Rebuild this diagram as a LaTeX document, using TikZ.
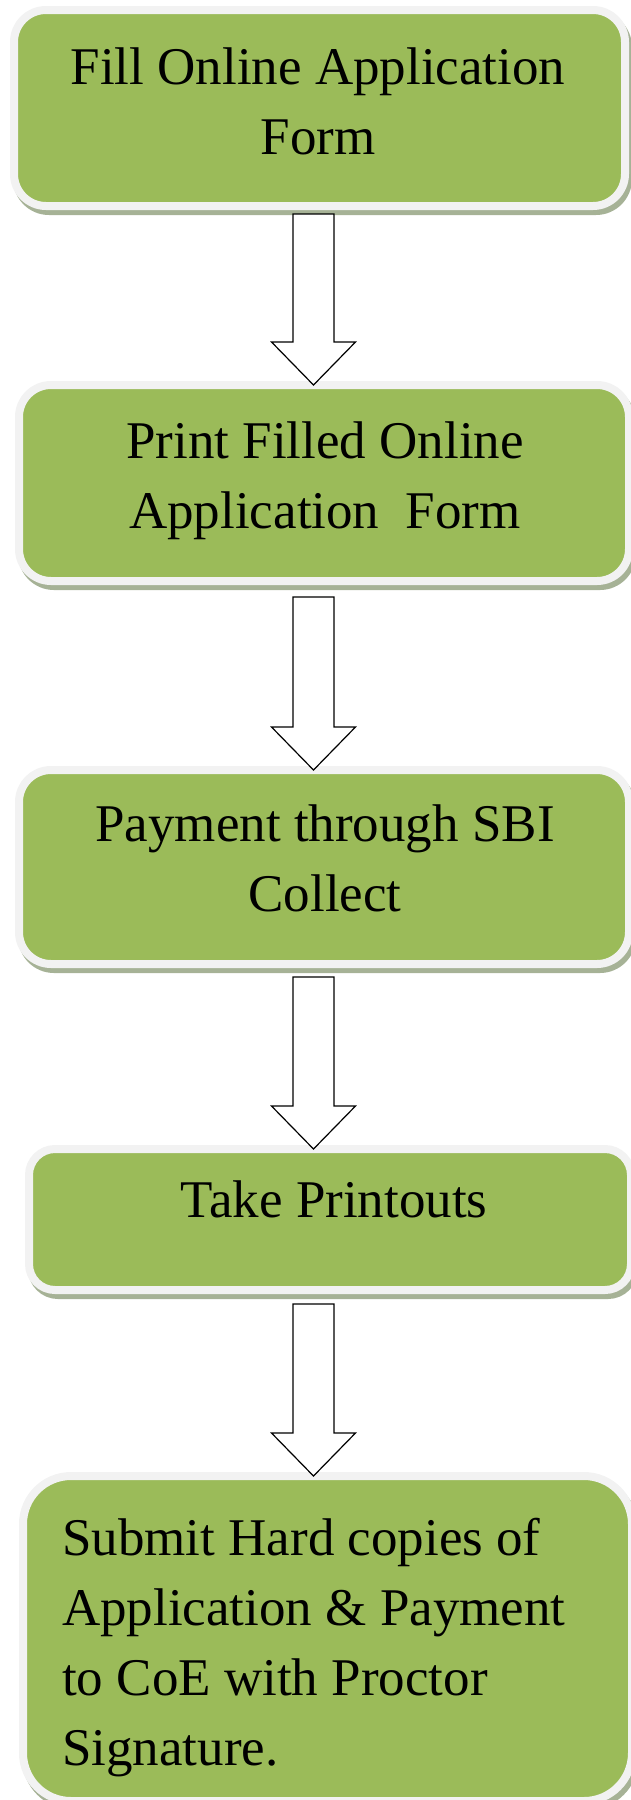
\documentclass[tikz,border=0pt]{standalone}
\usepackage{fontspec}
\setmainfont{Liberation Serif}
\usetikzlibrary{shadows,calc}

\definecolor{boxgreen}{RGB}{155,187,89}
\definecolor{boxrim}{RGB}{242,242,242}
\definecolor{boxshade}{RGB}{166,178,150}

\tikzset{
    stepbox/.style={rectangle, rounded corners=32pt, fill=boxgreen, draw=boxrim,
        line width=8pt, outer sep=0pt, inner sep=0pt,
        drop shadow={shadow xshift=3pt, shadow yshift=-5pt, fill=boxshade,
            draw=boxshade, line width=8pt, opacity=1}},
    steptext/.style={font=\fontsize{53}{70}\selectfont, align=center, inner sep=0pt, anchor=north},
    blockarr/.style={draw=black, fill=white, line width=1.2pt, line join=miter}
}

\begin{document}
\begin{tikzpicture}[x=1pt,y=-1pt]
        \useasboundingbox (0,0) rectangle (630,1800);
        \coordinate (ax) at (313.5,0);

        % the five steps
        \node[stepbox, minimum width=611pt, minimum height=196pt] (fillform) at (319.5,108) {};
        \node[stepbox, minimum width=610pt, minimum height=196pt] (printform) at (324,483) {};
        \node[stepbox, minimum width=610pt, minimum height=194pt] (payment) at (324,867) {};
        \node[stepbox, rounded corners=26pt, minimum width=602pt, minimum height=141pt] (printouts) at (330,1219.5) {};
        \node[stepbox, rounded corners=48pt, minimum width=609pt, minimum height=325pt] (submit) at (327.5,1638.5) {};

        \node[steptext] (fillformtxt) at (318,48) {Fill Online Application\\Form};
        \node[steptext] (printformtxt) at (325,422) {Print Filled Online\\Application\ \ Form};
        \node[steptext] (paymenttxt) at (325,805) {Payment through SBI\\Collect};
        \node[steptext] (printoutstxt) at (334,1181) {Take Printouts};
        \node[steptext, anchor=north west, align=left] (submittxt) at (62,1518)
            {Submit Hard copies of\\Application \& Payment\\to CoE with Proctor\\Signature.};

        % block arrows
        \draw[blockarr] ($(fillform.south -| ax)+(-20.5,8)$) -- ++(41,0) -- ($(printform.north -| ax)+(20.5,-43)$)
            -- ++(21.5,0) -- (printform.north -| ax) -- ++(-42,-43) -- ++(21.5,0) -- cycle;
        \draw[blockarr] ($(printform.south -| ax)+(-20.5,16)$) -- ++(41,0) -- ($(payment.north -| ax)+(20.5,-43)$)
            -- ++(21.5,0) -- (payment.north -| ax) -- ++(-42,-43) -- ++(21.5,0) -- cycle;
        \draw[blockarr] ($(payment.south -| ax)+(-20.5,13)$) -- ++(41,0) -- ($(printouts.north -| ax)+(20.5,-43)$)
            -- ++(21.5,0) -- (printouts.north -| ax) -- ++(-42,-43) -- ++(21.5,0) -- cycle;
        \draw[blockarr] ($(printouts.south -| ax)+(-20.5,14)$) -- ++(41,0) -- ($(submit.north -| ax)+(20.5,-43)$)
            -- ++(21.5,0) -- (submit.north -| ax) -- ++(-42,-43) -- ++(21.5,0) -- cycle;
\end{tikzpicture}
\end{document}
